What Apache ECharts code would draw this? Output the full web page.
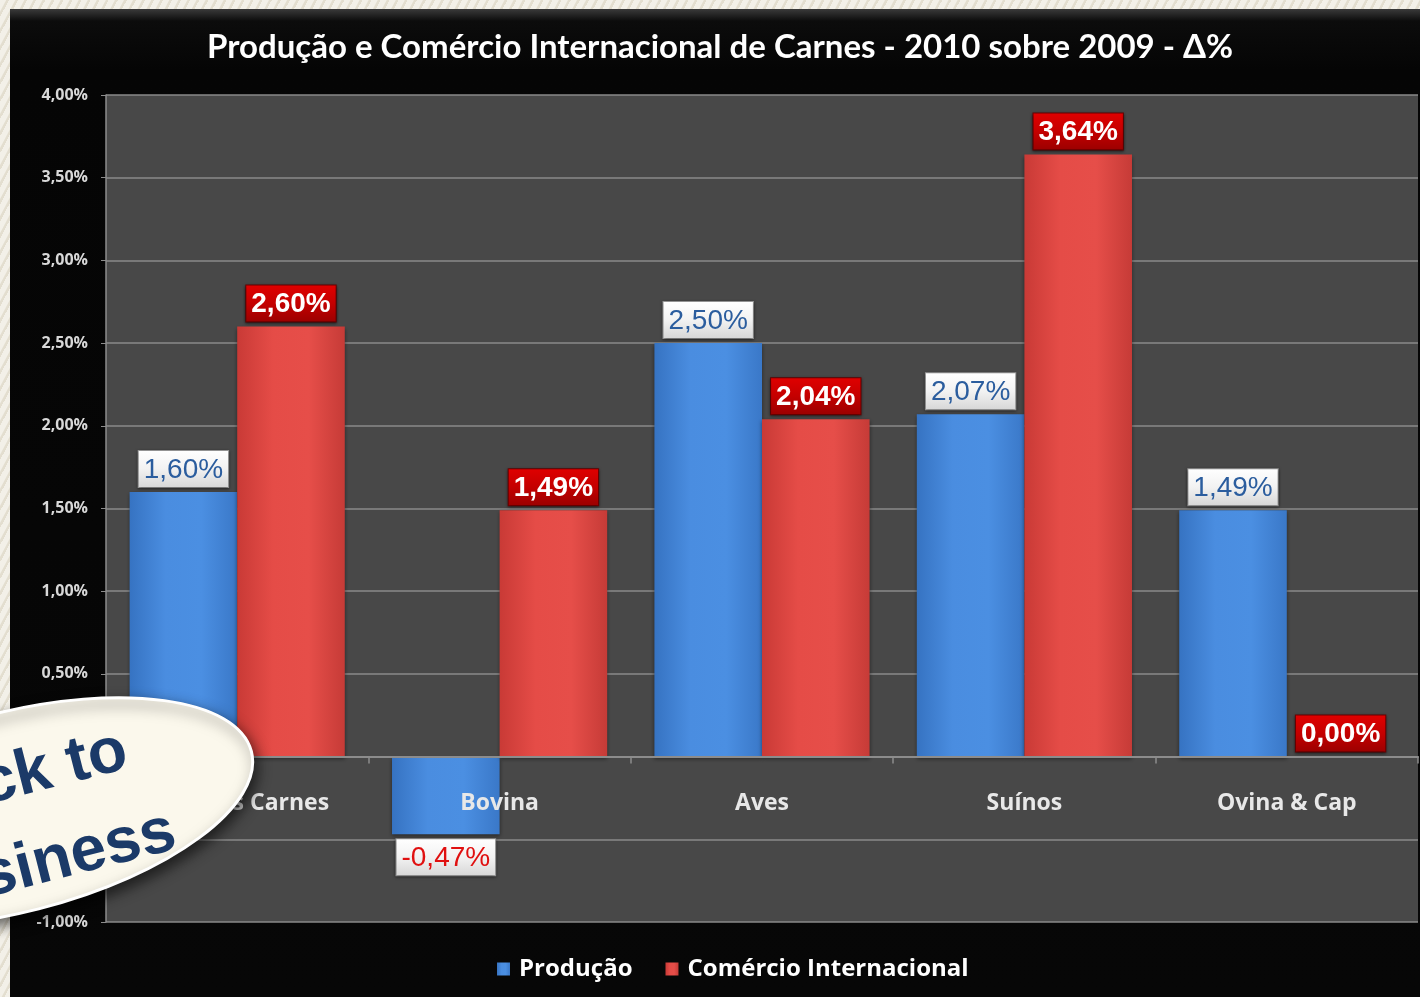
<!DOCTYPE html>
<html><head><meta charset="utf-8">
<script src="https://cdn.jsdelivr.net/npm/echarts@6/dist/echarts.min.js"></script>
<style>
html,body{margin:0;padding:0;width:1420px;height:997px;overflow:hidden;}
#wrap{position:relative;width:1420px;height:997px;background-color:#ece8dc;
 background-image:repeating-linear-gradient(118deg, rgba(255,255,255,0.35) 0px, rgba(255,255,255,0.35) 5px, rgba(200,192,170,0.25) 6px, rgba(200,192,170,0.25) 8px);}
#panel{position:absolute;left:10px;top:9px;width:1410px;height:988px;background:linear-gradient(#3a3a3a 0px,#0c0c0c 12px,#050505 60px,#070707 100%);}
#chart{position:absolute;left:0;top:0;width:1420px;height:997px;}
</style></head>
<body><div id="wrap"><div id="panel"></div><div id="chart"></div></div>
<script>
const categories = ['Todas as Carnes', 'Bovina', 'Aves', 'Suínos', 'Ovina & Cap'];
const producao = [1.60, -0.47, 2.50, 2.07, 1.49];
const comercio = [2.60, 1.49, 2.04, 3.64, 0.00];
const seriesNames = ['Produção', 'Comércio Internacional'];
const titleText = 'Produção e Comércio Internacional de Carnes - 2010 sobre 2009 - Δ%';
const yMin = -1, yMax = 4, yStep = 0.5;
const stickerLines = ['Back to', 'Business'];

const fmt = v => Number(v).toFixed(2).replace('.', ',') + '%';
const lg = (stops, horiz) => ({type:'linear', x:0, y:0, x2: horiz ? 1 : 0, y2: horiz ? 0 : 1,
  colorStops: stops.map((c,i)=>({offset: i/(stops.length-1), color:c}))});

const blueGrad = lg(['#3673c2','#4a8de0','#4b8fe2','#3a78c8'], true);
const redGrad = lg(['#c93a36','#e54c47','#e64e49','#c63b37'], true);
const whiteBox = lg(['#ffffff','#f2f2f2','#d6d6d6'], false);
const redBox = lg(['#e00000','#c40000','#9a0000'], false);

const gridTop = 95, gridBottom = 75, chartH = 997;
const plotH = chartH - gridTop - gridBottom;
const zeroOffset = -plotH * (0 - yMin) / (yMax - yMin);

const labelBase = {show:true, position:'top', distance:5, formatter: p => fmt(p.value),
  fontFamily:'"Liberation Sans", Arial, sans-serif', fontSize:28, lineHeight:30, padding:[4,5,2,5],
  borderWidth:1, shadowBlur:3, shadowColor:'rgba(0,0,0,0.5)', shadowOffsetY:1};

const stickerFont = 'bold 64px "Liberation Sans", Arial, sans-serif';

const chart = echarts.init(document.getElementById('chart'), null, {renderer:'canvas'});
chart.setOption({
  backgroundColor:'transparent',
  animation:false,
  title:{text:titleText, left:207, top:31, padding:0,
    textStyle:{color:'#ffffff', fontFamily:'Lato, "Open Sans", sans-serif', fontWeight:'bold', fontSize:33}},
  legend:{top:957, left:497, padding:0, icon:'rect', itemWidth:13, itemHeight:13, itemGap:33,
    textStyle:{color:'#ffffff', fontFamily:'"Open Sans", sans-serif', fontWeight:'bold', fontSize:24, padding:[0,0,0,4]}},
  grid:{show:true, backgroundColor:'#484848', borderWidth:0, left:106, right:2, top:gridTop, bottom:gridBottom},
  xAxis:{type:'category', data:categories, z:5, offset:zeroOffset,
    axisLine:{onZero:false, lineStyle:{color:'#8c8c8c', width:2}},
    axisTick:{show:true, length:7, lineStyle:{color:'#8c8c8c', width:1.5}},
    axisLabel:{margin:35, interval:0, color:'#e8e8e8', fontFamily:'"Open Sans", sans-serif', fontWeight:'bold', fontSize:23}},
  yAxis:{type:'value', min:yMin, max:yMax, interval:yStep,
    axisLine:{show:true, lineStyle:{color:'#8c8c8c', width:1.5}},
    axisTick:{show:true, length:5, lineStyle:{color:'#8c8c8c'}},
    axisLabel:{margin:18, formatter: v => fmt(v), color:'#d8d8d8', fontFamily:'"Open Sans", sans-serif', fontWeight:'bold', fontSize:16},
    splitLine:{lineStyle:{color:'#8a8a8a', width:1.5}}},
  series:[
    {name:seriesNames[0], type:'bar', barGap:'0%', barCategoryGap:'18%',
     itemStyle:{color:blueGrad, shadowBlur:4, shadowColor:'rgba(0,0,0,0.45)', shadowOffsetY:2},
     label:Object.assign({}, labelBase, {color:'#2b5d9e', backgroundColor:whiteBox, borderColor:'#9a9a9a'}),
     data: producao.map(v => v < 0 ? {value:v, label:{position:'bottom', color:'#e01010'}} : v)},
    {name:seriesNames[1], type:'bar', barGap:'0%', barCategoryGap:'18%',
     itemStyle:{color:redGrad, shadowBlur:4, shadowColor:'rgba(0,0,0,0.45)', shadowOffsetY:2},
     label:Object.assign({}, labelBase, {color:'#ffffff', fontWeight:'bold', backgroundColor:redBox, borderColor:'#6a0000'}),
     data: comercio.slice()}
  ],
  graphic:[{
    type:'group', x:14, y:812, rotation:0.25, z:100,
    children:[
      {type:'ellipse', z:100, shape:{cx:0, cy:0, rx:245, ry:100},
       style:{fill:'#fbf8ec', stroke:'#ffffff', lineWidth:3, shadowBlur:14, shadowColor:'rgba(0,0,0,0.6)', shadowOffsetX:3, shadowOffsetY:6}},
      {type:'text', z:101, x:124, y:-32, style:{text:stickerLines[0], font:stickerFont, fill:'#1b3a68', align:'right', verticalAlign:'middle'}},
      {type:'text', z:101, x:151, y:58, style:{text:stickerLines[1], font:stickerFont, fill:'#1b3a68', align:'right', verticalAlign:'middle'}}
    ]
  }]
});
</script></body></html>
